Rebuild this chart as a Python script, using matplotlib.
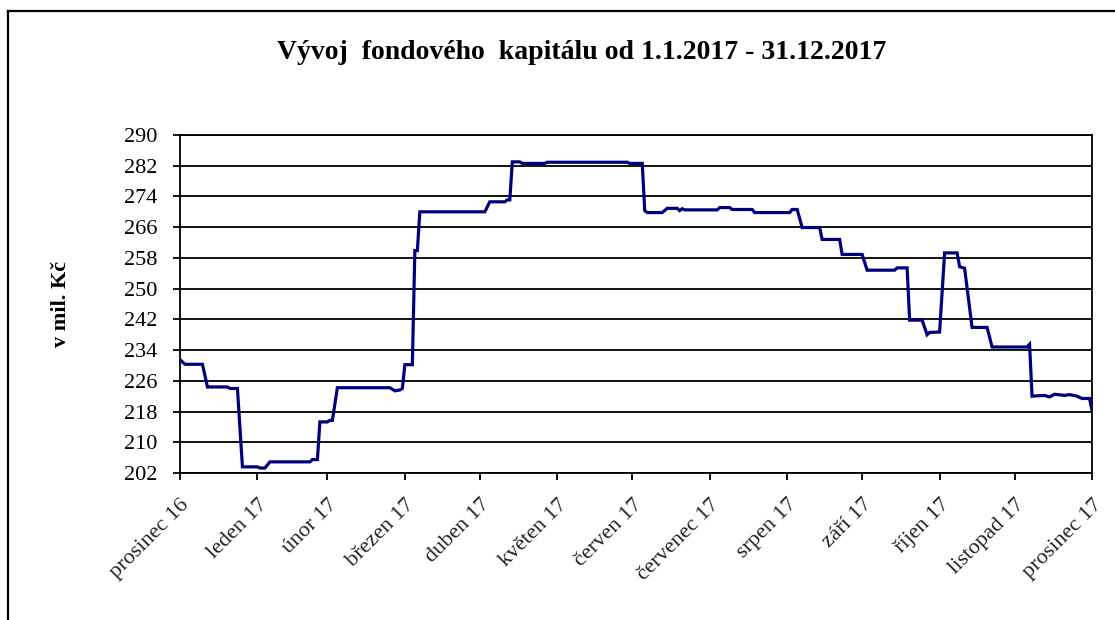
import matplotlib
matplotlib.use("Agg")
import matplotlib.pyplot as plt
import pandas as pd
from matplotlib.lines import Line2D

# denni hodnoty fondoveho kapitalu (mil. Kc)
dates = [
    "2016-12-31", "2017-01-02", "2017-01-09", "2017-01-11", "2017-01-19", "2017-01-20",
    "2017-01-23", "2017-01-25", "2017-01-31", "2017-02-01", "2017-02-03", "2017-02-05",
    "2017-02-21", "2017-02-22", "2017-02-24", "2017-02-25", "2017-02-28", "2017-03-01",
    "2017-03-02", "2017-03-04", "2017-03-25", "2017-03-27", "2017-03-29", "2017-03-30",
    "2017-03-31", "2017-04-03", "2017-04-04", "2017-04-05", "2017-04-06", "2017-05-02",
    "2017-05-04", "2017-05-10", "2017-05-11", "2017-05-12", "2017-05-13", "2017-05-16",
    "2017-05-17", "2017-05-26", "2017-05-27", "2017-06-28", "2017-06-29", "2017-07-04",
    "2017-07-05", "2017-07-06", "2017-07-12", "2017-07-14", "2017-07-18", "2017-07-19",
    "2017-07-20", "2017-07-21", "2017-08-03", "2017-08-04", "2017-08-08", "2017-08-09",
    "2017-08-17", "2017-08-18", "2017-09-01", "2017-09-02", "2017-09-04", "2017-09-06",
    "2017-09-13", "2017-09-14", "2017-09-21", "2017-09-22", "2017-09-30", "2017-10-02",
    "2017-10-13", "2017-10-14", "2017-10-18", "2017-10-19", "2017-10-24", "2017-10-26",
    "2017-10-27", "2017-10-31", "2017-11-02", "2017-11-07", "2017-11-08", "2017-11-10",
    "2017-11-13", "2017-11-19", "2017-11-21", "2017-12-05", "2017-12-06", "2017-12-07",
    "2017-12-12", "2017-12-14", "2017-12-16", "2017-12-20", "2017-12-22", "2017-12-25",
    "2017-12-27", "2017-12-30", "2017-12-31",
]
values = [
    231.5, 230.3, 230.3, 224.4, 224.4, 224.0,
    224.0, 203.6, 203.6, 203.3, 203.3, 204.9,
    204.9, 205.5, 205.5, 215.3, 215.3, 215.7,
    215.7, 224.2, 224.2, 223.4, 223.6, 224.0,
    230.2, 230.2, 259.9, 259.9, 270.0, 270.0,
    272.6, 272.6, 273.1, 273.1, 283.0, 283.0,
    282.6, 282.6, 282.9, 282.9, 282.6, 282.6,
    270.3, 269.8, 269.8, 270.9, 270.9, 270.3,
    270.8, 270.5, 270.5, 271.1, 271.1, 270.6,
    270.6, 269.8, 269.8, 270.6, 270.6, 265.9,
    265.9, 262.8, 262.8, 258.9, 258.9, 254.8,
    254.8, 255.4, 255.4, 241.8, 241.8, 238.0,
    238.6, 238.7, 259.3, 259.3, 255.7, 255.3,
    239.9, 239.9, 234.8, 234.8, 235.5, 222.0,
    222.2, 221.8, 222.5, 222.2, 222.4, 222.0,
    221.4, 221.4, 218.3,
]

tick_dates = [
    "2016-12-31", "2017-01-31", "2017-02-28", "2017-03-31", "2017-04-30", "2017-05-31",
    "2017-06-30", "2017-07-31", "2017-08-31", "2017-09-30", "2017-10-31", "2017-11-30",
    "2017-12-31",
]
tick_labels = [
    "prosinec 16", "leden 17", "únor 17", "březen 17", "duben 17", "květen 17",
    "červen 17", "červenec 17", "srpen 17", "září 17", "říjen 17", "listopad 17",
    "prosinec 17",
]
y_ticks = list(range(202, 291, 8))

plt.rcParams['font.family'] = ['Liberation Serif', 'DejaVu Serif']

x = pd.to_datetime(dates)
xt = pd.to_datetime(tick_dates)

fig = plt.figure(figsize=(11.15, 6.2), dpi=100)
ax = fig.add_axes([0.1614, 0.2371, 0.818, 0.5452])

ax.plot(x, values, color="#00007f", lw=2.3, solid_joinstyle="miter", zorder=3)

ax.set_xlim(xt[0], xt[-1])
ax.set_ylim(202, 290)
ax.set_yticks(y_ticks)
ax.yaxis.grid(True, color="black", lw=1.3)
ax.set_axisbelow(True)

ax.set_xticks(xt)
ax.set_xticklabels(tick_labels, rotation=45, ha="right", rotation_mode="anchor",
                   fontsize=16, color="#222222")
ax.tick_params(axis="x", length=5, width=1.3, pad=11)
ax.tick_params(axis="y", length=5, width=1.3, labelsize=16, pad=11)
for s in ax.spines.values():
    s.set_linewidth(1.3)

ax.set_ylabel("v mil. Kč", fontsize=16, fontweight="bold")
ax.yaxis.set_label_coords(-0.12, 0.5)
fig.text(0.522, 0.916, "Vývoj  fondového  kapitálu od 1.1.2017 - 31.12.2017",
         ha="center", va="center", fontsize=20, fontweight="bold")

# ramecek kolem grafu
fig.add_artist(Line2D([0.0072, 0.0072], [0.0, 0.9823], color="black", lw=1.6))
fig.add_artist(Line2D([0.0072, 1.0], [0.9823, 0.9823], color="black", lw=1.6))

fig.savefig("out.png", dpi=100)
